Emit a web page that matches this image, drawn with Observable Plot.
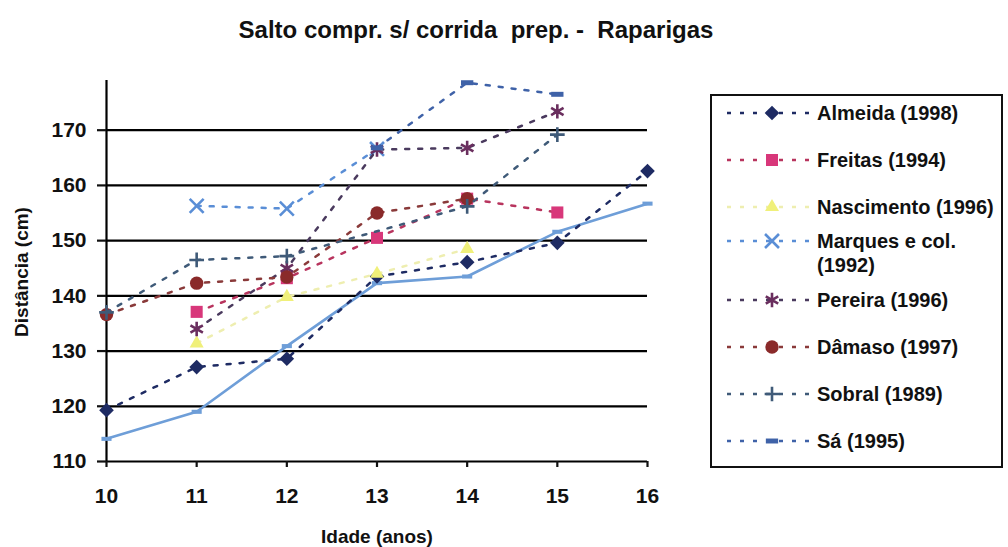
<!DOCTYPE html>
<html>
<head>
<meta charset="utf-8">
<script src="https://cdn.jsdelivr.net/npm/d3@7"></script>
<script src="https://cdn.jsdelivr.net/npm/@observablehq/plot@0.6"></script>
<style>
  body { margin: 0; background: #fff; }
  #wrap {
    position: relative; width: 1008px; height: 547px; overflow: hidden; background: #fff;
    font-family: "Liberation Sans", Arial, Helvetica, sans-serif; font-weight: bold; color: #111;
  }
  #titulo { position: absolute; top: 16px; left: 0; width: 952px; text-align: center; font-size: 24px; white-space: pre; }
  #grafico { position: absolute; top: 55px; left: 0; }
  #eixoY { position: absolute; left: 22px; top: 272px; transform: translate(-50%, -50%) rotate(-90deg); font-size: 19px; white-space: nowrap; }
  #eixoX { position: absolute; left: 377px; top: 537px; transform: translate(-50%, -50%); font-size: 19px; white-space: nowrap; }
  #legenda { position: absolute; left: 710px; top: 94px; width: 293px; height: 374px; border: 2px solid #111; box-sizing: border-box; }
  .linha { position: absolute; left: 0; width: 100%; }
  .linha svg { position: absolute; left: 15px; top: 0; }
  .linha .txt { position: absolute; left: 105px; top: 0; width: 190px; font-size: 20px; line-height: 24px; }
</style>
</head>
<body>
<div id="wrap">
  <div id="titulo"></div>
  <div id="grafico"></div>
  <div id="eixoY"></div>
  <div id="eixoX"></div>
  <div id="legenda"></div>
</div>
<script>
// Salto em comprimento sem corrida preparatória — raparigas, por idade
const titulo = "Salto compr. s/ corrida  prep. -  Raparigas";
const rotuloX = "Idade (anos)";
const rotuloY = "Distância (cm)";

const idades = [10, 11, 12, 13, 14, 15, 16];
const ticksY = [110, 120, 130, 140, 150, 160, 170];

const nomes = [
  "Almeida (1998)", "Freitas (1994)", "Nascimento (1996)", "Marques e col. (1992)",
  "Pereira (1996)", "Dâmaso (1997)", "Sobral (1989)", "Sá (1995)"
];

// valores médios (cm) por idade; null = sem dado
const almeida    = [119.3, 127.1, 128.6, 143.5, 146.1, 149.6, 162.6];
const freitas    = [null, 137.1, 143.2, 150.5, 157.6, 155.1, null];
const nascimento = [null, 131.4, 139.8, 144.0, 148.5, null, null];
const marques    = [null, 156.3, 155.8, 166.6, null, null, null];
const pereira    = [null, 134.0, 145.0, 166.5, 166.8, 173.4, null];
const damaso     = [136.6, 142.3, 143.4, 155.0, 157.6, null, null];
const sobral     = [137.0, 146.5, 147.2, null, 156.2, 169.2, null];
const sa         = [null, null, null, 166.8, 178.6, 176.5, null];
const estudo     = [114.1, 119.0, 130.9, 142.3, 143.5, 151.6, 156.7];

// marcador em forma de traço horizontal
const traco = { draw(ctx, size) { const w = Math.sqrt(size) * 0.62, h = Math.sqrt(size) * 0.25; ctx.rect(-w, -h, 2 * w, 2 * h); } };

const estilos = [
  { valores: almeida,    cor: "#1e2b63", linha: "#1e2b63", simbolo: d3.symbolDiamond2, r: 6.6, contorno: false },
  { valores: freitas,    cor: "#d8377a", linha: "#b8345e", simbolo: d3.symbolSquare,   r: 6.8, contorno: false },
  { valores: nascimento, cor: "#f0f07a", linha: "#eeeeb0", simbolo: d3.symbolTriangle, r: 5.2, contorno: false },
  { valores: marques,    cor: "#5a8ed6", linha: "#5a8ed6", simbolo: d3.symbolTimes,    r: 6.4, contorno: true },
  { valores: pereira,    cor: "#6a2e5e", linha: "#4a3a5e", simbolo: d3.symbolAsterisk, r: 6.8, contorno: true },
  { valores: damaso,     cor: "#8a2a2a", linha: "#8a3a3a", simbolo: d3.symbolCircle,   r: 6.7, contorno: false },
  { valores: sobral,     cor: "#3f5a78", linha: "#3f5a78", simbolo: d3.symbolPlus,     r: 4.8, contorno: true },
  { valores: sa,         cor: "#3f62a8", linha: "#3f62a8", simbolo: traco,             r: 5.6, contorno: false }
];

const dash = "4,9";
const pontos = v => idades.map((idade, i) => ({ idade, valor: v[i] })).filter(d => d.valor != null);

const marcas = [
  Plot.gridY(ticksY.filter(t => t > 110), { stroke: "#000", strokeOpacity: 1, strokeWidth: 2.2 }),
  Plot.ruleY([110], { stroke: "#000", strokeWidth: 2.2 }),
  Plot.ruleX([10], { stroke: "#000", strokeWidth: 2.2 }),
  Plot.axisY({ ticks: ticksY, tickSize: 9, tickPadding: 11, label: null, strokeWidth: 2.2, fontSize: 21 }),
  Plot.axisX({ ticks: idades, tickSize: 6, tickPadding: 21, label: null, strokeWidth: 2.2, fontSize: 21, tickFormat: d => d }),
  // série contínua sem marcação na legenda
  Plot.line(pontos(estudo), { x: "idade", y: "valor", stroke: "#6e9ed8", strokeWidth: 2.6 }),
  Plot.dot(pontos(estudo), { x: "idade", y: "valor", symbol: traco, r: 4.6, fill: "#6e9ed8" })
];

for (const s of estilos) {
  const dados = pontos(s.valores);
  marcas.push(Plot.line(dados, { x: "idade", y: "valor", stroke: s.linha, strokeWidth: 2.5, strokeDasharray: dash }));
  marcas.push(Plot.dot(dados, s.contorno
    ? { x: "idade", y: "valor", symbol: s.simbolo, r: s.r, stroke: s.cor, strokeWidth: 2.6, fill: "none" }
    : { x: "idade", y: "valor", symbol: s.simbolo, r: s.r, fill: s.cor, stroke: "none" }));
}

const grafico = Plot.plot({
  width: 700, height: 492,
  marginTop: 25, marginBottom: 86, marginLeft: 106, marginRight: 53,
  x: { domain: [10, 16] },
  y: { domain: [110, 179] },
  style: { fontFamily: "'Liberation Sans', Arial, sans-serif", fontWeight: "bold", fontSize: "21px", color: "#111", background: "transparent", overflow: "visible" },
  marks: marcas
});
document.getElementById("grafico").appendChild(grafico);

document.getElementById("titulo").textContent = titulo;
document.getElementById("eixoX").textContent = rotuloX;
document.getElementById("eixoY").textContent = rotuloY;

// legenda
const legenda = document.getElementById("legenda");
const passo = 46.8, primeiro = 17;
estilos.forEach((s, i) => {
  const linha = document.createElement("div");
  linha.className = "linha";
  legenda.appendChild(linha);
  const txt = document.createElement("div");
  txt.className = "txt";
  txt.textContent = nomes[i];
  linha.appendChild(txt);
  const svg = d3.select(linha).append("svg").attr("width", 88).attr("height", 24);
  svg.append("line").attr("x1", 0).attr("x2", 86).attr("y1", 12).attr("y2", 12)
    .attr("stroke", s.linha).attr("stroke-width", 2.5).attr("stroke-dasharray", dash);
  const path = d3.symbol(s.simbolo, Math.PI * s.r * s.r)();
  const p = svg.append("path").attr("d", path).attr("transform", "translate(45,12)");
  if (s.contorno) p.attr("fill", "none").attr("stroke", s.cor).attr("stroke-width", 2.6);
  else p.attr("fill", s.cor);
  const h = txt.getBoundingClientRect().height;
  linha.style.top = (primeiro + i * passo - h / 2) + "px";
});
</script>
</body>
</html>
